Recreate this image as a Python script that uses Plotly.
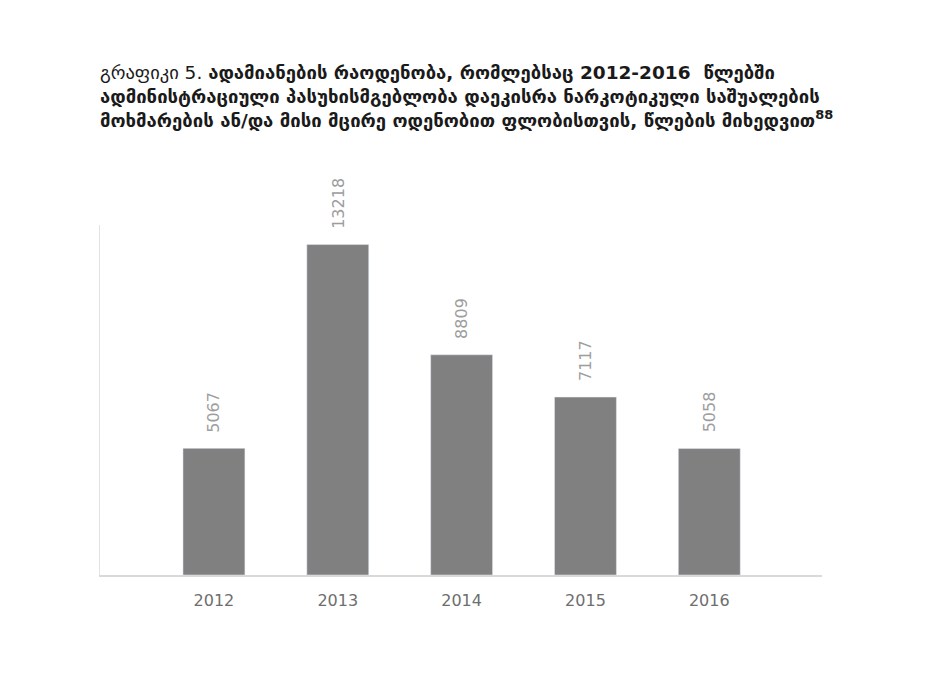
import plotly.graph_objects as go

# data
years = ["2012", "2013", "2014", "2015", "2016"]
people = [5067, 13218, 8809, 7117, 5058]

title_text = (
    "<span style='font-weight:normal'>გრაფიკი 5.</span> "
    "<b>ადამიანების რაოდენობა, რომლებსაც 2012-2016  წლებში<br>"
    "ადმინისტრაციული პასუხისმგებლობა დაეკისრა ნარკოტიკული საშუალების<br>"
    "მოხმარების ან/და მისი მცირე ოდენობით ფლობისთვის, წლების მიხედვით<sup>88</sup></b>"
)

fig = go.Figure()
fig.add_trace(go.Bar(
    x=years,
    y=people,
    marker_color="#808080",
    hoverinfo="x+y",
))

# value labels, rotated, sitting a little above each bar
# (category index used for x so "2012" isn't read as a number)
for i, v in enumerate(people):
    fig.add_annotation(
        x=i, y=v, text=str(v),
        textangle=-90,
        showarrow=False,
        xanchor="center", yanchor="bottom",
        yshift=14,
        font=dict(size=16, color="#9d9d9d", family="DejaVu Sans"),
    )

fig.update_layout(
    width=946,
    height=679,
    paper_bgcolor="white",
    plot_bgcolor="white",
    bargap=0.5,
    showlegend=False,
    margin=dict(l=92, r=132, t=217, b=112),
    title=dict(
        text=title_text,
        x=92 / 946,
        xanchor="left",
        y=1 - 71 / 679,
        yanchor="top",
        font=dict(size=18.5, color="#1a1a1a", family="DejaVu Sans"),
    ),
    font=dict(family="DejaVu Sans", color="#595959"),
)

fig.update_xaxes(
    type="category",
    range=[-0.92, 4.91],
    showline=True,
    linecolor="#d9d9d9",
    linewidth=1.5,
    showgrid=False,
    ticks="",
    tickfont=dict(size=16, color="#6e6e6e"),
    ticklabelstandoff=10,
)
fig.update_yaxes(
    range=[0, 14000],
    showline=True,
    linecolor="#e3e3e3",
    linewidth=1,
    showgrid=False,
    zeroline=False,
    showticklabels=False,
    ticks="",
)

fig.write_html("out.html")
